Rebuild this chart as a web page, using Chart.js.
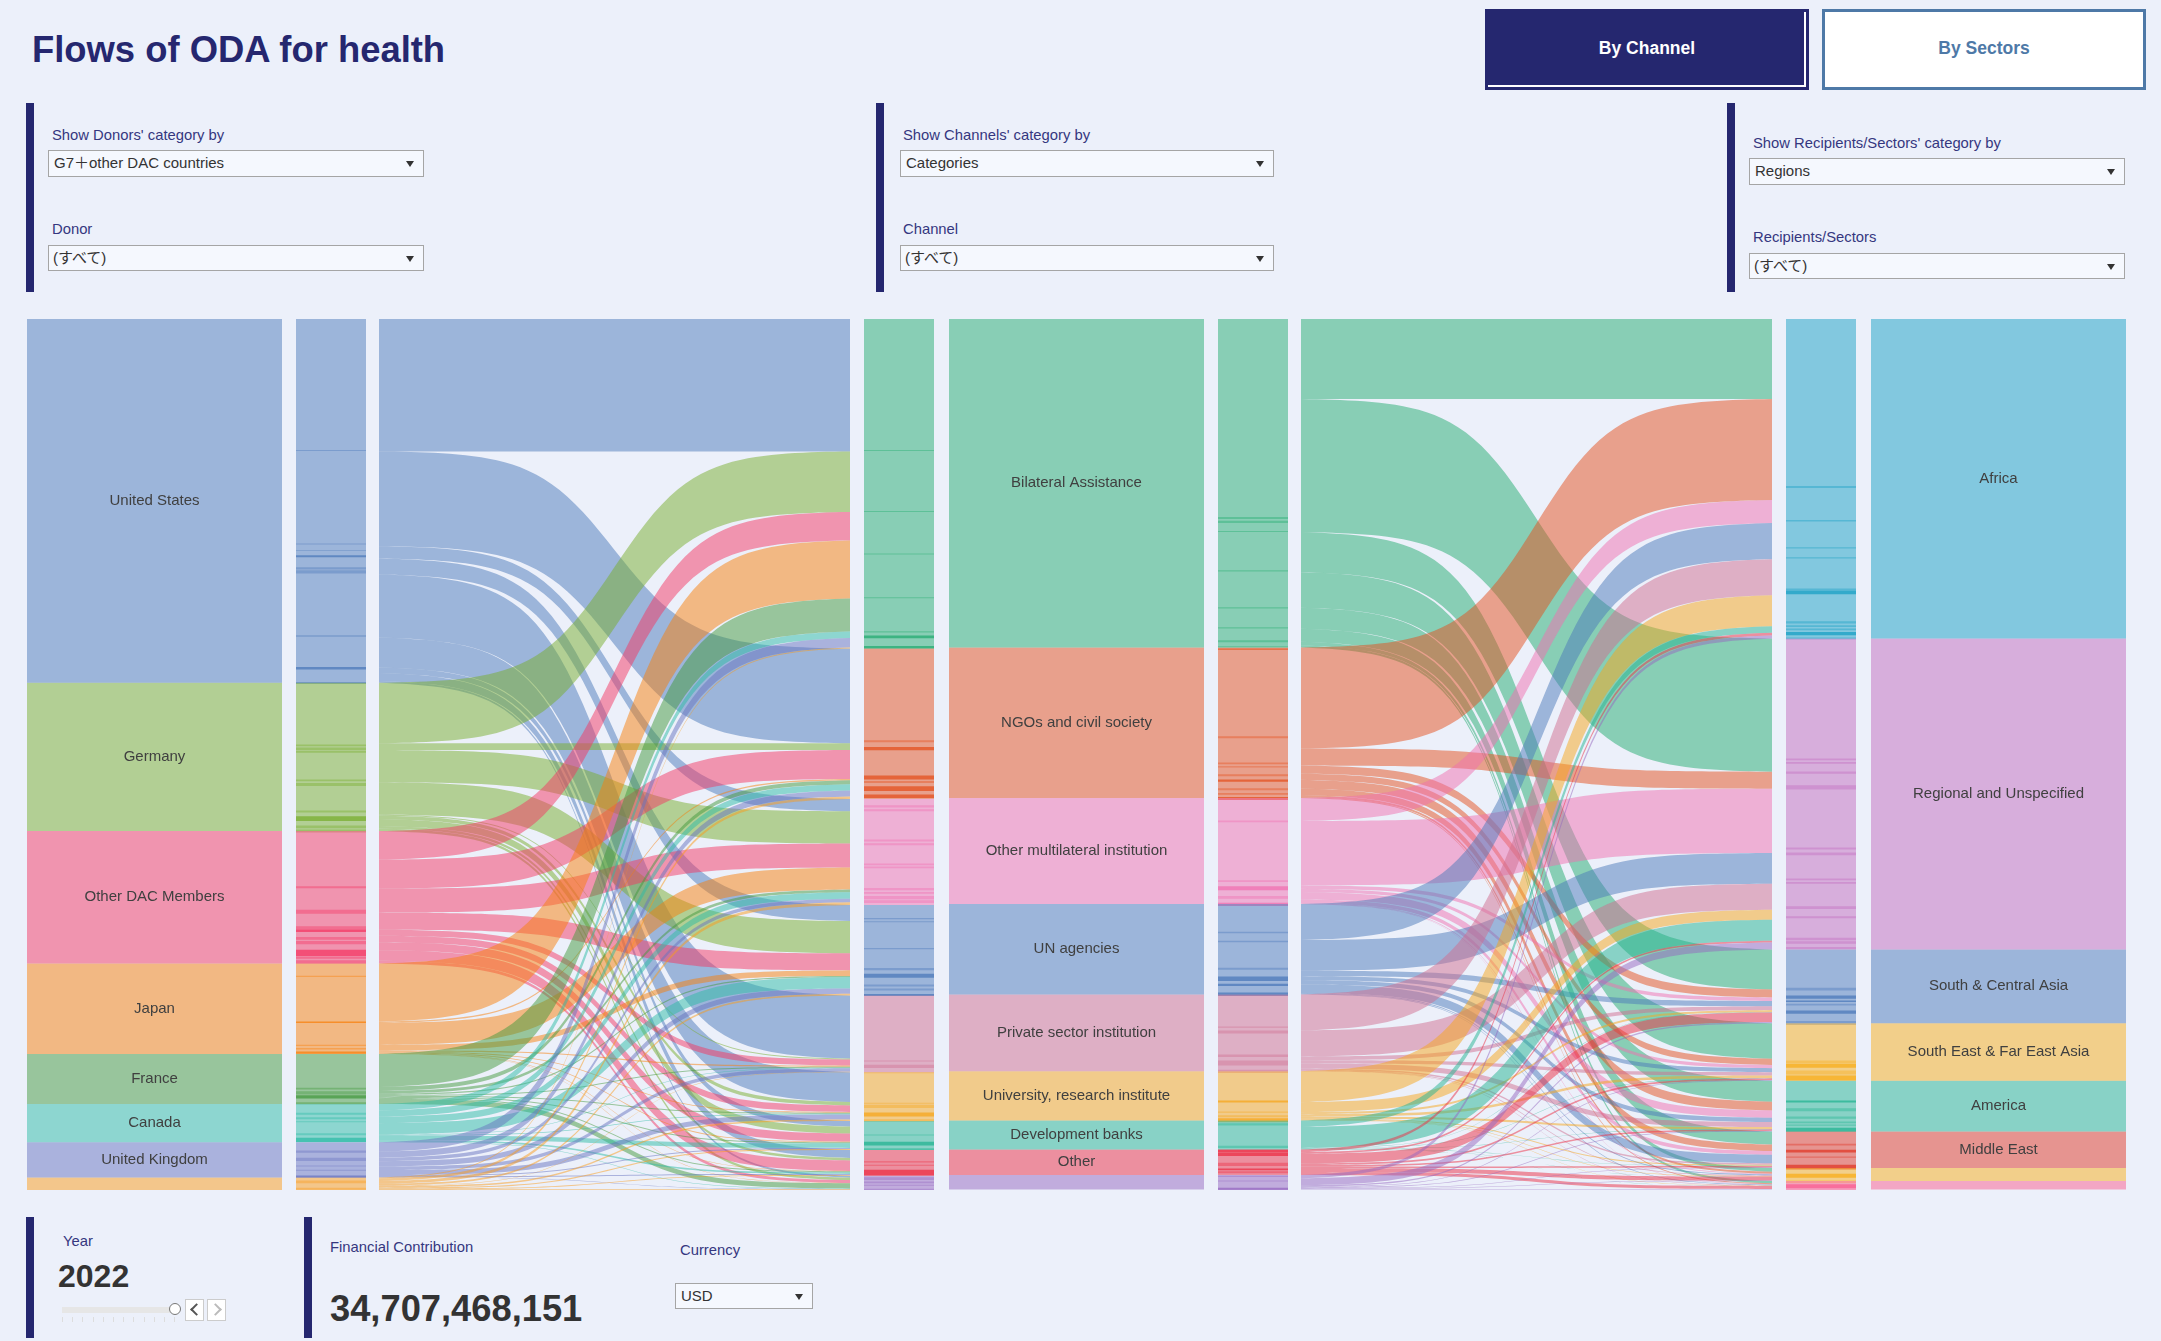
<!DOCTYPE html>
<html>
<head>
<meta charset="utf-8">
<title>Flows of ODA for health</title>
<script src="https://cdn.jsdelivr.net/npm/chart.js@4/dist/chart.umd.js"></script>
<style>
html, body { margin: 0; padding: 0; background: #ECF0FA; }
body { position: relative; width: 2161px; height: 1341px; overflow: hidden; font-family: "Liberation Sans", Arial, "Noto Sans CJK JP", sans-serif; }
body > * { position: absolute; }
canvas { display: block; }
.title { left: 32px; top: 28px; font-size: 36.4px; font-weight: bold; color: #25276F; white-space: nowrap; line-height: 43px; }
.btn { top: 9px; width: 324px; height: 81px; box-sizing: border-box; font-size: 17.5px; font-weight: bold; text-align: center; line-height: 73px; }
.btn.on { left: 1485px; background: #25276F; color: #fff; border: 3px solid #25276F; box-shadow: inset -2px -2px 0 #fff; }
.btn.off { left: 1822px; background: #fff; color: #4E79A7; border: 3px solid #4E79A7; }
.bar { width: 8px; background: #25276F; }
.lab { font-size: 14.8px; color: #35377F; white-space: nowrap; line-height: 18px; }
.sel { box-sizing: border-box; border: 1px solid #A5A5A5; background: #F5F8FE; color: #333; font-size: 15px; line-height: 24px; padding-left: 5px; white-space: nowrap; }
.sel::after { content: ""; position: absolute; right: 9px; top: 10px; border-left: 4.5px solid transparent; border-right: 4.5px solid transparent; border-top: 6px solid #333; }
.big { font-weight: bold; color: #333; white-space: nowrap; }
.track { left: 62px; top: 1307px; width: 112px; height: 6px; background: #E6E6E6; }
.ticks { left: 62px; top: 1317px; width: 113px; height: 5px; background: repeating-linear-gradient(90deg, #DDD 0, #DDD 1px, transparent 1px, transparent 10.2px); }
.knob { left: 169px; top: 1303px; width: 10px; height: 10px; border: 1px solid #777; border-radius: 50%; background: #fff; }
.step { top: 1299px; width: 17px; height: 20px; border: 1px solid #CCC; background: #fff; }
.chev { position: absolute; left: 6px; top: 5px; width: 7px; height: 7px; border-left: 2px solid #555; border-bottom: 2px solid #555; transform: rotate(45deg); }
.chev.next { left: 3px; border-color: #BBB; transform: rotate(225deg); }
</style>
</head>
<body>
<div class="title">Flows of ODA for health</div>
<div class="btn on">By Channel</div>
<div class="btn off">By Sectors</div>

<div class="bar" style="left:26px;top:103px;height:189px"></div>
<div class="lab" style="left:52px;top:126px">Show Donors' category by</div>
<div class="sel" style="left:48px;top:150px;width:376px;height:27px">G7＋other DAC countries</div>
<div class="lab" style="left:52px;top:220px">Donor</div>
<div class="sel" style="left:48px;top:245px;width:376px;height:26px;padding-left:4px">(すべて)</div>

<div class="bar" style="left:876px;top:103px;height:189px"></div>
<div class="lab" style="left:903px;top:126px">Show Channels' category by</div>
<div class="sel" style="left:900px;top:150px;width:374px;height:27px">Categories</div>
<div class="lab" style="left:903px;top:220px">Channel</div>
<div class="sel" style="left:900px;top:245px;width:374px;height:26px;padding-left:4px">(すべて)</div>

<div class="bar" style="left:1727px;top:103px;height:189px"></div>
<div class="lab" style="left:1753px;top:134px">Show Recipients/Sectors' category by</div>
<div class="sel" style="left:1749px;top:158px;width:376px;height:27px">Regions</div>
<div class="lab" style="left:1753px;top:228px">Recipients/Sectors</div>
<div class="sel" style="left:1749px;top:253px;width:376px;height:26px;padding-left:4px">(すべて)</div>

<canvas id="donorCol" width="255" height="871" style="left:27px;top:319px"></canvas>
<canvas id="donorDetailCol" width="70" height="871" style="left:296px;top:319px"></canvas>
<canvas id="flowLeft" width="471" height="871" style="left:379px;top:319px"></canvas>
<canvas id="channelDetailInCol" width="70" height="871" style="left:864px;top:319px"></canvas>
<canvas id="channelCol" width="255" height="871" style="left:949px;top:319px"></canvas>
<canvas id="channelDetailOutCol" width="70" height="871" style="left:1218px;top:319px"></canvas>
<canvas id="flowRight" width="471" height="871" style="left:1301px;top:319px"></canvas>
<canvas id="regionDetailCol" width="70" height="871" style="left:1786px;top:319px"></canvas>
<canvas id="regionCol" width="255" height="871" style="left:1871px;top:319px"></canvas>

<div class="bar" style="left:26px;top:1217px;height:121px"></div>
<div class="lab" style="left:63px;top:1232px">Year</div>
<div class="big" style="left:58px;top:1258px;font-size:32px;line-height:37px">2022</div>
<div class="track"></div>
<div class="ticks"></div>
<div class="knob"></div>
<div class="step" style="left:185px"><div class="chev"></div></div>
<div class="step" style="left:207px"><div class="chev next"></div></div>

<div class="bar" style="left:304px;top:1217px;height:121px"></div>
<div class="lab" style="left:330px;top:1238px">Financial Contribution</div>
<div class="big" style="left:330px;top:1288px;font-size:36.3px;line-height:42px">34,707,468,151</div>
<div class="lab" style="left:680px;top:1241px">Currency</div>
<div class="sel" style="left:675px;top:1283px;width:138px;height:26px">USD</div>

<script>
// =====================
// DATA
// values are read off the picture, in units of about 40 million USD
// =====================
const yearShown = 2022;

const donors = ["United States", "Germany", "Other DAC Members", "Japan", "France", "Canada", "United Kingdom", null];
const channels = ["Bilateral Assistance", "NGOs and civil society", "Other multilateral institution", "UN agencies",
    "Private sector institution", "University, research institute", "Development banks", "Other", null];
const regions = ["Africa", "Regional and Unspecified", "South & Central Asia", "South East & Far East Asia",
    "America", "Middle East", null, null];

const donorColors = ["#4C7ABA", "#78AE2E", "#F43864", "#F8800C", "#449A3E", "#2EBCA6", "#6874C0", "#FA9C1C"];
const channelColors = ["#24AC70", "#E4501E", "#F070B0", "#4C7ABA", "#D06E90", "#F6A61C", "#24B492", "#EC2E44", "#9668C0"];
const regionColors = ["#18A0C4", "#C26CBE", "#4C7ABA", "#F8AE1A", "#24B492", "#E03826", "#F8AE1A", "#FA5C8E"];

// one row per donor, one value per channel
const donorToChannel = [
    [132.3, 94.7, 12.3, 16, 63.1, 29.8, 5.6, 7.9, 1.9],
    [60.5, 6.7, 32.2, 32.3, 1, 3.5, 7, 2.5, 2.5],
    [28.5, 29, 24, 17, 6, 6.5, 8, 10.5, 2.9],
    [58, 1.3, 22, 5.5, 1.2, 0.8, 0.8, 0.4, 0.3],
    [33, 4, 2.7, 1.2, 1, 1, 1, 1, 5.1],
    [6.5, 6.2, 6.5, 11.3, 0.5, 0.7, 4.5, 1.6, 0.5],
    [9.5, 6, 3.5, 5.3, 3.5, 5, 1, 1, 0.4],
    [1, 2.5, 2.8, 1.7, 0.4, 1.5, 1.1, 0.8, 0.7]
];

// one row per channel, one value per region
const channelToRegion = [
    [80, 133, 40, 35.5, 21, 13, 3.6, 2.2],
    [101, 17, 8, 6.2, 8.8, 6.5, 2, 0.9],
    [23, 64.3, 3.5, 3.2, 7.3, 3.7, 0.7, 0.3],
    [36, 30.7, 5.3, 4, 4.3, 8.5, 0.9, 0.6],
    [36, 26, 3.8, 3.3, 5, 1.5, 0.7, 0.4],
    [31, 10, 2, 2.5, 2, 1, 0.5, 0.3],
    [6.5, 21, 0.3, 0.4, 0.3, 0.3, 0.1, 0.1],
    [2.7, 1.7, 9.5, 1.7, 1.5, 1.5, 4, 3],
    [3.2, 7, 1.3, 0.6, 0.7, 0.5, 0.5, 0.5]
];

// small items inside the narrow columns: [offset from the top, size]
const donorItems = [[131, 1], [224.3, 1], [231, 0.8], [248, 2.3], [251, 3.3], [316, 1.5], [425.3, 1.7], [428.3, 2.7], [431.7, 1.7],
    [460.3, 1.7], [463.7, 3], [491.3, 2], [506.3, 2.7], [510.3, 3], [567, 2], [590.3, 4], [607, 4], [617.7, 2.7], [621.7, 3.3],
    [637.7, 1.7], [641, 3.3], [656.3, 1.3], [725.3, 1.3], [728.7, 1.3], [768.3, 1.7], [771.7, 3.3], [782.7, 2.3], [793.3, 2],
    [797.7, 2], [801.7, 1], [813.7, 2], [831, 2.3], [838.3, 3.3], [846, 1], [850.3, 1], [861, 2.7], [868.3, 2]];
const donorItemsLarge = [[236, 2], [347.7, 2.5], [363, 1.5], [497, 4.7], [610.3, 2.3], [630.3, 6.7], [702, 1.7], [732, 2.3],
    [775.7, 3.3], [818.3, 4.3], [856, 2.3]];

const channelInItems = [[131, 1], [192, 1], [234.3, 1], [278, 1], [312, 1.3], [421, 2], [461.7, 2], [486, 2.3], [490, 2],
    [520.3, 2], [524, 2], [544.3, 1.7], [547.3, 1.7], [568.7, 2.3], [572.7, 1.7], [576.7, 3.3], [581, 2.7], [598.7, 1.3], [602, 1],
    [628.7, 1.3], [648.7, 2.3], [665, 2], [669, 2], [741, 1], [745.3, 3.3], [752.7, 1], [783.3, 1], [785.3, 3.3], [799.7, 2.7],
    [815, 1], [841.7, 1.3], [845.3, 1], [857.7, 2.7], [862, 1.7], [865.3, 1], [869.3, 1.7]];
const channelInItemsLarge = [[316.3, 2.7], [326.8, 2.5], [427.7, 3.3], [456.3, 4], [467, 4.7], [475.3, 3.5], [654.3, 4], [674.7, 2],
    [793, 4], [822.3, 3.7], [829, 1.3], [850.3, 5.7]];

const channelOutItems = [[198, 2], [201.7, 2.3], [212, 1], [251, 1.3], [288, 1.3], [308, 1.3], [321, 2], [327, 1.3], [417, 2],
    [443.3, 1.7], [447, 1.3], [455, 2], [469, 2], [473.7, 1.7], [501.3, 1.7], [561, 1.7], [576.7, 2.7], [612.3, 1.7], [621.3, 1.7],
    [648.3, 2], [707, 1.3], [711, 3], [735, 2.7], [741, 5], [750.3, 3.3], [792, 1.3], [795.7, 2], [803.7, 2.3], [826.3, 2.3],
    [843.3, 3.3], [851.7, 2], [856.3, 1.3], [861, 1]];
const channelOutItemsLarge = [[329.3, 1.2], [460.3, 2.3], [477.7, 3], [567, 4], [583.3, 3.3], [657, 4.7], [664.3, 2.3], [673, 3.7],
    [781, 2], [798.7, 4], [830, 3], [833.3, 3.3], [849, 1.7], [868.3, 2.7]];

const regionItems = [[167, 2], [201, 1.3], [228, 1.3], [238, 1.3], [269.3, 1.7], [302, 2.3], [306, 1.7], [309.3, 1.7], [318.3, 2],
    [439.3, 1.7], [442.7, 1.7], [452.3, 2.3], [466, 4.3], [528.3, 2], [533.3, 2.7], [559.3, 1.7], [562.7, 1.7], [587, 2.7], [597, 2],
    [618.3, 2.7], [622, 2.3], [627.7, 2.3], [668.3, 2.7], [684.3, 1.7], [701.7, 4], [741, 2.7], [751, 4], [788.7, 3], [797, 2.3],
    [802, 1.7], [805, 1.3], [824.3, 1.7], [837, 1.3], [861, 2.7], [869.3, 1.7]];
const regionItemsLarge = [[271.3, 3.7], [312.7, 3.3], [676, 3.3], [681, 1.7], [691, 3.3], [744.3, 4], [756, 5], [781, 2], [808.3, 4],
    [830.3, 2.7], [845.3, 4.7], [854.3, 4], [864.7, 4]];

// =====================
// HELPERS
// =====================
function sum(list) {
    return list.reduce((a, b) => a + b, 0);
}

function withAlpha(hex, alpha) {
    const r = parseInt(hex.slice(1, 3), 16);
    const g = parseInt(hex.slice(3, 5), 16);
    const b = parseInt(hex.slice(5, 7), 16);
    return `rgba(${r},${g},${b},${alpha})`;
}

const donorTotals = donorToChannel.map(sum);
const channelTotals = channels.map((_, c) => sum(donorToChannel.map(row => row[c])));
const channelOutTotals = channelToRegion.map(sum);
const regionTotals = regions.map((_, r) => sum(channelToRegion.map(row => row[r])));

const yMax = Math.max(sum(donorTotals), sum(channelOutTotals));

Chart.defaults.animation = false;

// =====================
// COLUMNS
// =====================
const labelPlugin = {
    id: "segmentLabels",
    afterDatasetsDraw(chart) {
        const names = chart.config.options.segmentNames;
        if (!names) return;
        const ctx = chart.ctx;
        ctx.save();
        ctx.font = '15px "Liberation Sans", Arial, sans-serif';
        ctx.fillStyle = "#404040";
        ctx.textAlign = "center";
        ctx.textBaseline = "middle";
        names.forEach((name, i) => {
            if (!name) return;
            const bar = chart.getDatasetMeta(i).data[0];
            ctx.fillText(name, bar.x, (bar.y + bar.base) / 2);
        });
        ctx.restore();
    }
};

function barDataset(from, size, color) {
    return {
        data: [[from, from + size]],
        backgroundColor: color,
        grouped: false,
        borderWidth: 0,
        inflateAmount: 0
    };
}

function drawColumn(id, names, totals, colors, items, largeItems) {
    const datasets = [];
    let start = 0;
    const starts = totals.map(v => {
        const s = start;
        start += v;
        return s;
    });

    totals.forEach((v, i) => {
        datasets.push(barDataset(starts[i], v, withAlpha(colors[i], 0.5)));
    });

    function colorAt(offset) {
        let k = 0;
        starts.forEach((s, i) => {
            if (offset + 0.3 >= s) k = i;
        });
        return colors[k];
    }

    (items || []).forEach(item => {
        datasets.push(barDataset(item[0], item[1], withAlpha(colorAt(item[0]), 0.42)));
    });
    (largeItems || []).forEach(item => {
        datasets.push(barDataset(item[0], item[1], withAlpha(colorAt(item[0]), 0.75)));
    });

    new Chart(document.getElementById(id), {
        type: "bar",
        data: { labels: [String(yearShown)], datasets: datasets },
        options: {
            responsive: false,
            segmentNames: names,
            barPercentage: 1,
            categoryPercentage: 1,
            layout: { padding: 0 },
            plugins: { legend: { display: false }, tooltip: { enabled: false } },
            scales: {
                x: { display: false },
                y: { display: false, reverse: true, min: 0, max: yMax }
            }
        },
        plugins: [labelPlugin]
    });
}

drawColumn("donorCol", donors, donorTotals, donorColors);
drawColumn("donorDetailCol", null, donorTotals, donorColors, donorItems, donorItemsLarge);
drawColumn("channelDetailInCol", null, channelTotals, channelColors, channelInItems, channelInItemsLarge);
drawColumn("channelCol", channels, channelOutTotals, channelColors);
drawColumn("channelDetailOutCol", null, channelOutTotals, channelColors, channelOutItems, channelOutItemsLarge);
drawColumn("regionDetailCol", null, regionTotals, regionColors, regionItems, regionItemsLarge);
drawColumn("regionCol", regions, regionTotals, regionColors);

// =====================
// FLOWS
// =====================
const ribbonPlugin = {
    id: "ribbons",
    beforeDatasetsDraw(chart) {
        const ctx = chart.ctx;
        const xs = chart.scales.x;
        const ys = chart.scales.y;
        const steps = 60;
        const low = 1 / (1 + Math.exp(6));
        const high = 1 / (1 + Math.exp(-6));

        chart.data.datasets.forEach(ds => {
            const x0 = xs.getPixelForValue(ds.data[0].x);
            const x1 = xs.getPixelForValue(ds.data[1].x);
            const top0 = ys.getPixelForValue(ds.data[0].y);
            const top1 = ys.getPixelForValue(ds.data[1].y);
            const thick = ys.getPixelForValue(ds.data[0].y + ds.flowSize) - top0;

            const topEdge = [];
            for (let i = 0; i <= steps; i++) {
                const t = i / steps;
                const s = (1 / (1 + Math.exp(6 - 12 * t)) - low) / (high - low);
                topEdge.push([x0 + (x1 - x0) * t, top0 + (top1 - top0) * s]);
            }

            ctx.beginPath();
            topEdge.forEach((p, i) => {
                if (i === 0) ctx.moveTo(p[0], p[1]);
                else ctx.lineTo(p[0], p[1]);
            });
            for (let i = steps; i >= 0; i--) {
                ctx.lineTo(topEdge[i][0], topEdge[i][1] + thick);
            }
            ctx.closePath();
            ctx.fillStyle = ds.flowColor;
            ctx.fill();
        });
    }
};

function drawFlows(id, matrix, colors) {
    const columnCount = matrix[0].length;
    const rightOffsets = [];
    let running = 0;
    for (let c = 0; c < columnCount; c++) {
        rightOffsets.push(running);
        running += sum(matrix.map(row => row[c]));
    }

    const datasets = [];
    let leftOffset = 0;
    matrix.forEach((row, r) => {
        row.forEach((v, c) => {
            datasets.push({
                data: [{ x: 0, y: leftOffset }, { x: 1, y: rightOffsets[c] }],
                flowSize: v,
                flowColor: withAlpha(colors[r], 0.5),
                showLine: false,
                pointRadius: 0
            });
            leftOffset += v;
            rightOffsets[c] += v;
        });
    });

    new Chart(document.getElementById(id), {
        type: "line",
        data: { datasets: datasets },
        options: {
            responsive: false,
            layout: { padding: 0 },
            plugins: { legend: { display: false }, tooltip: { enabled: false } },
            scales: {
                x: { type: "linear", display: false, min: 0, max: 1 },
                y: { display: false, reverse: true, min: 0, max: yMax }
            }
        },
        plugins: [ribbonPlugin]
    });
}

drawFlows("flowLeft", donorToChannel, donorColors);
drawFlows("flowRight", channelToRegion, channelColors);
</script>
</body>
</html>
